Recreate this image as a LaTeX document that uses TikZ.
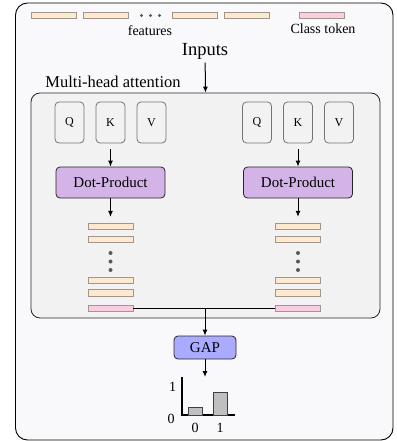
\documentclass[tikz,border=0pt]{standalone}
\usepackage{fontspec}
\setmainfont{Liberation Serif}
\usetikzlibrary{arrows.meta}

\definecolor{featfill}{RGB}{253,233,208}
\definecolor{clsfill}{RGB}{252,204,226}
\definecolor{barline}{RGB}{160,150,140}
\definecolor{dotfill}{RGB}{212,180,232}
\definecolor{gapfill}{RGB}{170,170,255}
\definecolor{panelfill}{RGB}{242,242,242}
\definecolor{pagefill}{RGB}{249,249,251}

\begin{document}
\begin{tikzpicture}[
	x=1pt, y=-1pt,
	tokenbar/.style={
		rectangle,
		minimum width=45pt,
		minimum height=6.5pt,
		inner sep=0pt,
		draw=barline,
		fill=featfill,
		line width=0.8pt
	},
	clsbar/.style={
		tokenbar,
		fill=clsfill
	},
	qkvbox/.style={
		rectangle,
		rounded corners=4pt,
		minimum width=29pt,
		minimum height=41pt,
		draw=black!55,
		fill=panelfill,
		line width=0.8pt,
		font=\fontsize{12}{14}\selectfont
	},
	opbox/.style={
		rectangle,
		rounded corners=4pt,
		draw=black!85,
		line width=0.8pt,
		font=\fontsize{15}{17}\selectfont
	},
	flow/.style={
		-{Latex[length=6pt,width=5pt]},
		line width=1pt
	},
	vdot/.style={
		circle,
		fill=black!65,
		inner sep=0pt,
		minimum size=4pt
	}
]

\useasboundingbox (0,0) rectangle (396,441);

% outer frame and attention panel
\draw[fill=pagefill, rounded corners=12pt, line width=0.9pt] (15.5,3) rectangle (393,440);
\node[
	rectangle,
	rounded corners=9pt,
	draw=black!85,
	fill=panelfill,
	line width=0.8pt,
	minimum width=349pt,
	minimum height=225pt
] (attn) at (205.5,205.5) {};
\node[font=\fontsize{16.5}{18}\selectfont] (attnlabel) at (113,81.5) {Multi-head attention};



% input tokens
\foreach \tx [count=\i] in {54,105.5,194.5,246.5} {
	\node[tokenbar] (feat\i) at (\tx,15.5) {};
}
\foreach \dx in {141.5,150.5,159.5} {
	\node[vdot, minimum size=3.2pt] at (\dx,15.5) {};
}
\node[clsbar] (cls) at (321.5,15.5) {};

\node[font=\fontsize{14}{16}\selectfont] (featlabel) at (150,31) {features};
\node[font=\fontsize{14}{16}\selectfont] (clslabel) at (323,29) {Class token};
\node[font=\fontsize{18.5}{20}\selectfont] (inputs) at (205,51) {Inputs};

\draw[flow] (inputs) -- (attn.north);



% one column per head
\def\qkvstep{41}

\foreach \hx [count=\h] in {110.5,298} {
	\node[qkvbox] (q\h) at (\hx-\qkvstep,122.5) {Q};
	\node[qkvbox] (k\h) at (\hx,122.5) {K};
	\node[qkvbox] (v\h) at (\hx+\qkvstep,122.5) {V};

	\node[opbox, fill=dotfill, minimum width=109pt, minimum height=31pt] (dot\h) at (\hx,182.5) {Dot-Product};

	\node[tokenbar] (out\h a) at (\hx,226.5) {};
	\node[tokenbar] (out\h b) at (\hx,239.5) {};
	\foreach \dy in {253,261.5,270} {
		\node[vdot] at (\hx,\dy) {};
	}
	\node[tokenbar] (out\h c) at (\hx,280.5) {};
	\node[tokenbar] (out\h d) at (\hx,293) {};
	\node[clsbar] (outcls\h) at (\hx,308.5) {};

	\draw[flow, shorten <=6pt] (k\h) -- (dot\h);
	\draw[flow, shorten >=6pt] (dot\h) -- (out\h a);
}



% pooling of the two class tokens
\coordinate (join) at (205,308.5);
\draw[line width=1.1pt] (outcls1.east) -- (outcls2.west);

\node[opbox, fill=gapfill, minimum width=62pt, minimum height=23pt] (gap) at (205,347.5) {GAP};
\draw[flow] (join) -- (gap);

\coordinate (plottop) at (205,377);
\draw[flow] (gap) -- (plottop);



% class scores
\draw[line width=1.6pt] (182,377) -- (182,415) -- (235,415);
\draw[fill=black!25, draw=black!75, line width=0.8pt] (188,415) rectangle (202,407);
\draw[fill=black!25, draw=black!75, line width=0.8pt] (213,415) rectangle (227,392);

\node[font=\fontsize{14}{16}\selectfont] at (172.5,386.5) {1};
\node[font=\fontsize{14}{16}\selectfont] at (171,418.5) {0};
\node[font=\fontsize{14}{16}\selectfont] at (195,428) {0};
\node[font=\fontsize{14}{16}\selectfont] at (220,428) {1};

\end{tikzpicture}
\end{document}
